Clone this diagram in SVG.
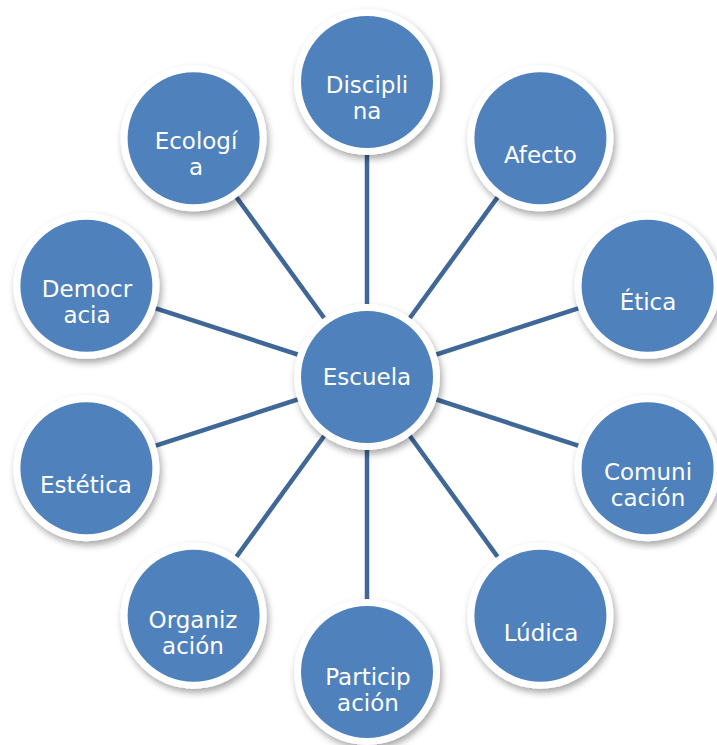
<svg xmlns="http://www.w3.org/2000/svg" width="717" height="745" viewBox="0 0 717 745">
<defs>
<filter id="sh" x="-20%" y="-20%" width="150%" height="150%">
<feDropShadow dx="2" dy="4" stdDeviation="3.5" flood-color="#000" flood-opacity="0.35"/>
</filter>
<style>
.ring{fill:#ffffff;filter:url(#sh);}
.fill{fill:#4F81BD;}
.lbl{font-family:"DejaVu Sans","Verdana",sans-serif;font-size:23px;fill:#ffffff;text-anchor:middle;}
.conn line{stroke:#3F6797;stroke-width:4.5;}
</style>
</defs>
<rect width="717" height="745" fill="#ffffff"/>
<g id="connectors" class="conn">
<line x1="367" y1="377" x2="367" y2="82"/>
<line x1="367" y1="377" x2="540.4" y2="138.3"/>
<line x1="367" y1="377" x2="647.6" y2="285.8"/>
<line x1="367" y1="377" x2="647.6" y2="468.2"/>
<line x1="367" y1="377" x2="540.4" y2="615.7"/>
<line x1="367" y1="377" x2="367" y2="672"/>
<line x1="367" y1="377" x2="193.6" y2="615.7"/>
<line x1="367" y1="377" x2="86.4" y2="468.2"/>
<line x1="367" y1="377" x2="86.4" y2="285.8"/>
<line x1="367" y1="377" x2="193.6" y2="138.3"/>
</g>
<g id="escuela">
<circle class="ring" cx="367" cy="377" r="73"/>
<circle class="fill" cx="367" cy="377" r="66"/>
<text class="lbl" x="367" y="385">Escuela</text>
</g>
<g id="disciplina">
<circle class="ring" cx="367" cy="82" r="73"/>
<circle class="fill" cx="367" cy="82" r="66"/>
<text class="lbl" x="367" y="93">Discipli</text>
<text class="lbl" x="367" y="119">na</text>
</g>
<g id="afecto">
<circle class="ring" cx="540.4" cy="138.3" r="73"/>
<circle class="fill" cx="540.4" cy="138.3" r="66"/>
<text class="lbl" x="540.4" y="163">Afecto</text>
</g>
<g id="etica">
<circle class="ring" cx="647.6" cy="285.8" r="73"/>
<circle class="fill" cx="647.6" cy="285.8" r="66"/>
<text class="lbl" x="648" y="310">Ética</text>
</g>
<g id="comunicacion">
<circle class="ring" cx="647.6" cy="468.2" r="73"/>
<circle class="fill" cx="647.6" cy="468.2" r="66"/>
<text class="lbl" x="648" y="480">Comuni</text>
<text class="lbl" x="648" y="506">cación</text>
</g>
<g id="ludica">
<circle class="ring" cx="540.4" cy="615.7" r="73"/>
<circle class="fill" cx="540.4" cy="615.7" r="66"/>
<text class="lbl" x="541" y="641">Lúdica</text>
</g>
<g id="participacion">
<circle class="ring" cx="367" cy="672" r="73"/>
<circle class="fill" cx="367" cy="672" r="66"/>
<text class="lbl" x="368" y="685">Particip</text>
<text class="lbl" x="368" y="711">ación</text>
</g>
<g id="organizacion">
<circle class="ring" cx="193.6" cy="615.7" r="73"/>
<circle class="fill" cx="193.6" cy="615.7" r="66"/>
<text class="lbl" x="193" y="628">Organiz</text>
<text class="lbl" x="193" y="654">ación</text>
</g>
<g id="estetica">
<circle class="ring" cx="86.4" cy="468.2" r="73"/>
<circle class="fill" cx="86.4" cy="468.2" r="66"/>
<text class="lbl" x="86" y="493">Estética</text>
</g>
<g id="democracia">
<circle class="ring" cx="86.4" cy="285.8" r="73"/>
<circle class="fill" cx="86.4" cy="285.8" r="66"/>
<text class="lbl" x="87" y="297">Democr</text>
<text class="lbl" x="87" y="323">acia</text>
</g>
<g id="ecologia">
<circle class="ring" cx="193.6" cy="138.3" r="73"/>
<circle class="fill" cx="193.6" cy="138.3" r="66"/>
<text class="lbl" x="196" y="149">Ecologí</text>
<text class="lbl" x="196" y="175">a</text>
</g>
</svg>
